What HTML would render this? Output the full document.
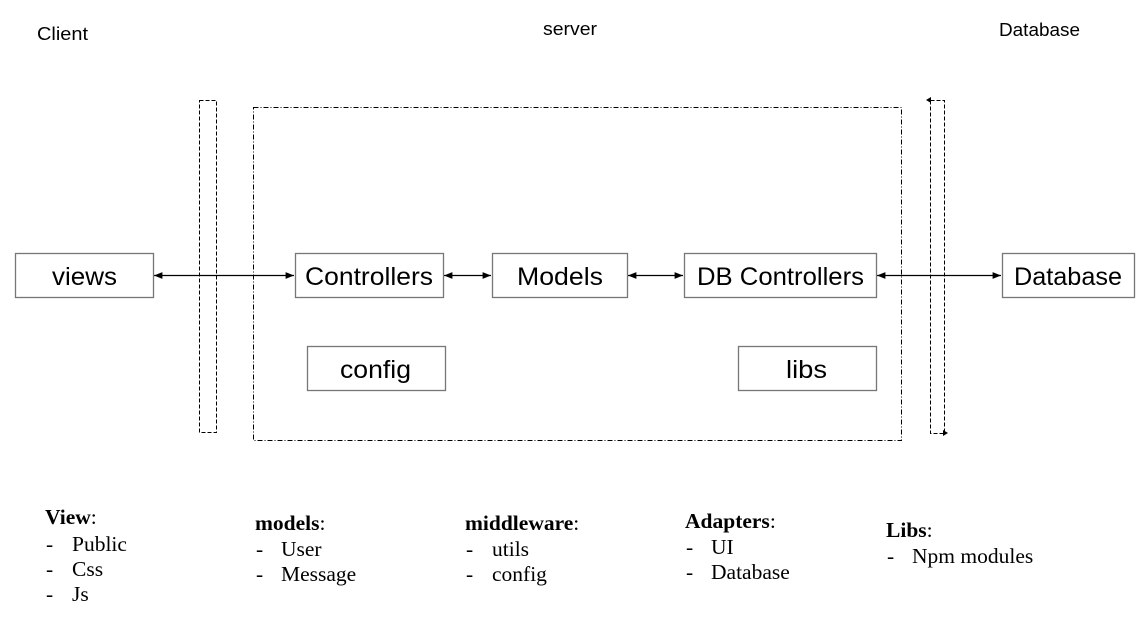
<!DOCTYPE html>
<html><head><meta charset="utf-8"><style>
html,body{margin:0;padding:0;background:#fff;width:1140px;height:626px;overflow:hidden}
svg{display:block}
.s{font-family:"Liberation Sans",sans-serif;fill:#000}
.r{font-family:"Liberation Serif",serif;font-size:21.5px;fill:#000}
.b{font-weight:bold}
</style></head><body>
<svg width="1140" height="626" viewBox="0 0 1140 626" xmlns="http://www.w3.org/2000/svg">
<defs>
<marker id="a" viewBox="0 0 10 10" refX="10" refY="5" markerWidth="7" markerHeight="7" orient="auto-start-reverse"><path d="M0,1 L10,5 L0,9 z" fill="#000"/></marker>
</defs>
<g class="s" font-size="18">
<text x="37" y="40" textLength="51" lengthAdjust="spacingAndGlyphs">Client</text>
<text x="543" y="35" textLength="54" lengthAdjust="spacingAndGlyphs">server</text>
<text x="999" y="36" textLength="81" lengthAdjust="spacingAndGlyphs">Database</text>
</g>
<rect x="199.5" y="100.5" width="17" height="332" fill="none" stroke="#000" stroke-width="1" stroke-dasharray="4,2"/>
<rect x="253.5" y="107.5" width="648" height="333" fill="none" stroke="#000" stroke-width="1" stroke-dasharray="5,2,1,2"/>
<path d="M930.5,100.5 H944.5 V433.5 H930.5 V100.5" fill="none" stroke="#000" stroke-width="1" stroke-dasharray="4,2"/>
<path d="M926,100 l5,-3 v6 z" fill="#000"/>
<path d="M948,433 l-5,-3 v6 z" fill="#000"/>
<g stroke="#000" stroke-width="1.2" fill="none">
<line x1="154" y1="275.5" x2="294" y2="275.5" marker-start="url(#a)" marker-end="url(#a)"/>
<line x1="444" y1="275.5" x2="491" y2="275.5" marker-start="url(#a)" marker-end="url(#a)"/>
<line x1="628" y1="275.5" x2="683" y2="275.5" marker-start="url(#a)" marker-end="url(#a)"/>
<line x1="877" y1="275.5" x2="1001" y2="275.5" marker-start="url(#a)" marker-end="url(#a)"/>
</g>
<g fill="#fff" stroke="#777" stroke-width="1.3">
<rect x="15.5" y="253.5" width="138" height="44"/>
<rect x="295.5" y="253.5" width="148" height="44"/>
<rect x="492.5" y="253.5" width="135" height="44"/>
<rect x="684.5" y="253.5" width="192" height="44"/>
<rect x="1002.5" y="253.5" width="132" height="44"/>
<rect x="307.5" y="346.5" width="138" height="44"/>
<rect x="738.5" y="346.5" width="138" height="44"/>
</g>
<g class="s" font-size="25">
<text x="52" y="285" textLength="65" lengthAdjust="spacingAndGlyphs">views</text>
<text x="305" y="285" textLength="128" lengthAdjust="spacingAndGlyphs">Controllers</text>
<text x="517" y="285" textLength="86" lengthAdjust="spacingAndGlyphs">Models</text>
<text x="697" y="285" textLength="167" lengthAdjust="spacingAndGlyphs">DB Controllers</text>
<text x="1014" y="285" textLength="108" lengthAdjust="spacingAndGlyphs">Database</text>
<text x="340" y="378" textLength="71" lengthAdjust="spacingAndGlyphs">config</text>
<text x="786" y="378" textLength="41" lengthAdjust="spacingAndGlyphs">libs</text>
</g>
<g class="r">
<text x="45" y="524"><tspan class="b">View</tspan>:</text>
<text x="46" y="551">-</text><text x="72" y="551">Public</text>
<text x="46" y="576">-</text><text x="72" y="576">Css</text>
<text x="46" y="601">-</text><text x="72" y="601">Js</text>

<text x="255" y="530"><tspan class="b">models</tspan>:</text>
<text x="256" y="556">-</text><text x="281" y="556">User</text>
<text x="256" y="581">-</text><text x="281" y="581">Message</text>

<text x="465" y="530"><tspan class="b">middleware</tspan>:</text>
<text x="466" y="556">-</text><text x="492" y="556">utils</text>
<text x="466" y="581">-</text><text x="492" y="581">config</text>

<text x="685" y="528"><tspan class="b">Adapters</tspan>:</text>
<text x="686" y="554">-</text><text x="711" y="554">UI</text>
<text x="686" y="579">-</text><text x="711" y="579">Database</text>

<text x="886" y="537"><tspan class="b">Libs</tspan>:</text>
<text x="887" y="563">-</text><text x="912" y="563">Npm modules</text>
</g>
</svg>
</body></html>
